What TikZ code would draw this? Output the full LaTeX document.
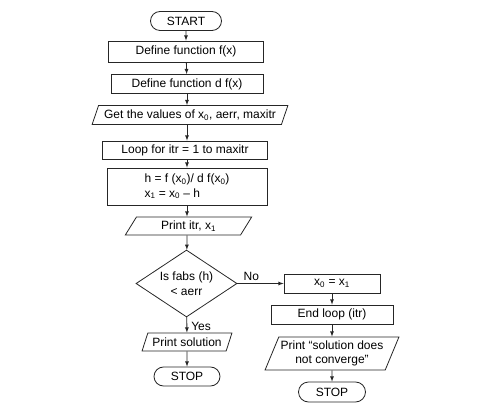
\documentclass[tikz,border=0pt]{standalone}
\usepackage{fontspec}
\setmainfont{Liberation Sans}
\usetikzlibrary{shapes.geometric,shapes.misc}

\begin{document}
\begin{tikzpicture}[x=1pt,y=-1pt,
    every node/.style={font=\fontsize{12}{14.5}\selectfont,inner sep=1pt},
    box/.style={draw=black!85,line width=0.8pt,rectangle,minimum height=19pt},
    term/.style={draw=black!85,line width=0.8pt,rounded rectangle,minimum height=19pt},
    io/.style={draw=black!85,line width=0.8pt,trapezium,trapezium left angle=64,
      trapezium right angle=116,trapezium stretches=true,minimum height=19pt},
    test/.style={draw=black!85,line width=0.8pt,diamond,aspect=1.5,minimum width=101pt,
      minimum height=67pt,align=center,inner sep=0pt},
    line/.style={draw=black!85,line width=0.8pt,-latex}]
      \useasboundingbox (0,0) rectangle (492,411);
      % main column
      \node[term,minimum width=73pt] (start) at (186,21) {START};
      \node[box,minimum width=155pt,minimum height=21pt] (deff) at (186,51.5) {Define function f(x)};
      \node[box,minimum width=152pt] (defdf) at (187,84) {Define function d f(x)};
      \node[io,minimum width=196pt,minimum height=19pt] (get) at (190,115) {Get the values of x\textsubscript{0}, aerr, maxitr};
      \node[box,minimum width=165pt,minimum height=18pt] (loop) at (185,150) {Loop for itr = 1 to maxitr};
      \node[box,minimum width=160pt,minimum height=37pt,align=left] (calc) at (187,186.5)
        {h = f (x\textsubscript{0})/ d f(x\textsubscript{0})\\x\textsubscript{1} = x\textsubscript{0} -- h};
      \node[io,minimum width=127pt,minimum height=18pt] (print) at (188.5,226) {Print itr, x\textsubscript{1}};
      \node[test] (check) at (186.5,283.5) {Is fabs (h)\\ {<} aerr};
      \node[io,minimum width=90pt,minimum height=18pt] (sol) at (187,342) {Print solution};
      \node[term,minimum width=68pt] (stopa) at (187,376.5) {STOP};
      % right column
      \node[box,minimum width=96pt] (swap) at (332,283.5) {x\textsubscript{0} = x\textsubscript{1}};
      \node[box,minimum width=122pt] (endl) at (332,314.5) {End loop (itr)};
      \node[io,minimum width=134pt,minimum height=33pt,align=center] (fail) at (332,353.5)
        {Print \textquotedblleft solution does\\not converge\textquotedblright};
      \node[term,minimum width=69pt,minimum height=20pt] (stopb) at (332,392) {STOP};
      % arrows
      \draw[line] (start) -- (deff);
      \draw[line] (deff) -- (defdf);
      \draw[line] (defdf) -- (defdf|-get.north);
      \draw[line] (defdf|-get.south) -- (defdf|-loop.north);
      \draw[line] (defdf|-loop.south) -- (defdf|-calc.north);
      \draw[line] (defdf|-calc.south) -- (defdf|-print.north);
      \draw[line] (defdf|-print.south) -- (check);
      \draw[line] (check) -- node[above,pos=0.3,yshift=1pt] {No} (swap);
      \draw[line] (check) -- node[right,pos=0.6,xshift=3pt] {Yes} (sol);
      \draw[line] (sol) -- (stopa);
      \draw[line] (swap) -- (endl);
      \draw[line] (endl) -- (fail);
      \draw[line] (fail) -- (stopb);
    \end{tikzpicture}
\end{document}
